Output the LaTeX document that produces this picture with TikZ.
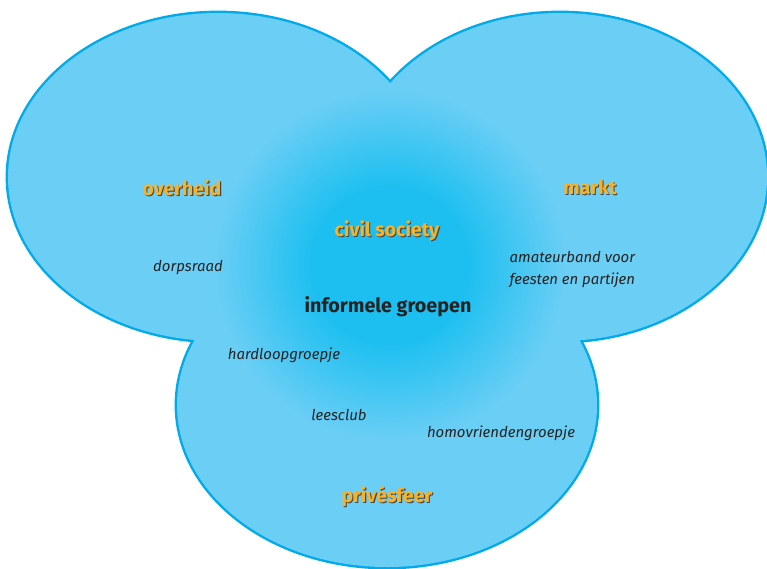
\documentclass[tikz,border=0pt]{standalone}
\usepackage{fontspec}
\setmainfont{Fira Sans}
\usepackage{xcolor}
\usepackage{tikz}
\definecolor{sphereblue}{RGB}{107, 206, 245}
\definecolor{rimblue}{RGB}{0, 170, 235}
\definecolor{glowblue}{RGB}{28, 191, 240}
\definecolor{labelorange}{RGB}{246, 178, 42}
\definecolor{shadowgray}{RGB}{70, 70, 70}
\definecolor{textdark}{RGB}{35, 35, 35}
\pgfdeclareradialshading{glow}{\pgfpoint{0bp}{0bp}}{color(0bp)=(glowblue); color(11bp)=(glowblue); color(25bp)=(sphereblue); color(50bp)=(sphereblue)}
\newcommand{\shadowed}[1]{\rlap{\kern0.8pt\raisebox{-0.8pt}{\color{shadowgray}#1}}#1}

\begin{document}
\begin{tikzpicture}[
    x=0.75pt, y=0.75pt,
    sector/.style={font=\bfseries\fontsize{14.6}{16}\selectfont, text=labelorange},
    core/.style={font=\bfseries\fontsize{14.8}{17}\selectfont, text=textdark},
    example/.style={font=\itshape\fontsize{11.2}{16.5}\selectfont, text=textdark}
]
\useasboundingbox (0,0) rectangle (767,-568);

% three spheres: thick rim first, fill on top hides the inner halves
\draw[rimblue, line width=3.6pt] (218,-177) ellipse [x radius=210, y radius=164];
\draw[rimblue, line width=3.6pt] (560,-177) ellipse [x radius=207, y radius=164];
\draw[rimblue, line width=3.6pt] (387,-405) ellipse [x radius=210, y radius=162];
\fill[sphereblue] (218,-177) ellipse [x radius=210, y radius=164];
\fill[sphereblue] (560,-177) ellipse [x radius=207, y radius=164];
\fill[sphereblue] (387,-405) ellipse [x radius=210, y radius=162];

\begin{scope}
\clip (218,-177) ellipse [x radius=210, y radius=164]
      (560,-177) ellipse [x radius=207, y radius=164]
      (387,-405) ellipse [x radius=210, y radius=162];
\shade[shading=glow] (390,-265) circle (176);
\end{scope}

\node[sector] (overheid) at (182,-188) {\shadowed{overheid}};
\node[sector] (markt) at (590,-188) {\shadowed{markt}};
\node[sector] (civil) at (387,-231) {\shadowed{civil society}};
\node[sector] (prive) at (387,-497) {\shadowed{privésfeer}};

\node[core] (informeel) at (388,-307) {informele groepen};

\node[example] (dorpsraad) at (188,-268) {dorpsraad};
\node[example, anchor=west, align=left] (band) at (505,-270) {amateurband voor\\feesten en partijen};
\node[example] (hardloop) at (284,-355) {hardloopgroepje};
\node[example] (leesclub) at (339,-415) {leesclub};
\node[example] (homo) at (501,-433) {homovriendengroepje};

\end{tikzpicture}
\end{document}
